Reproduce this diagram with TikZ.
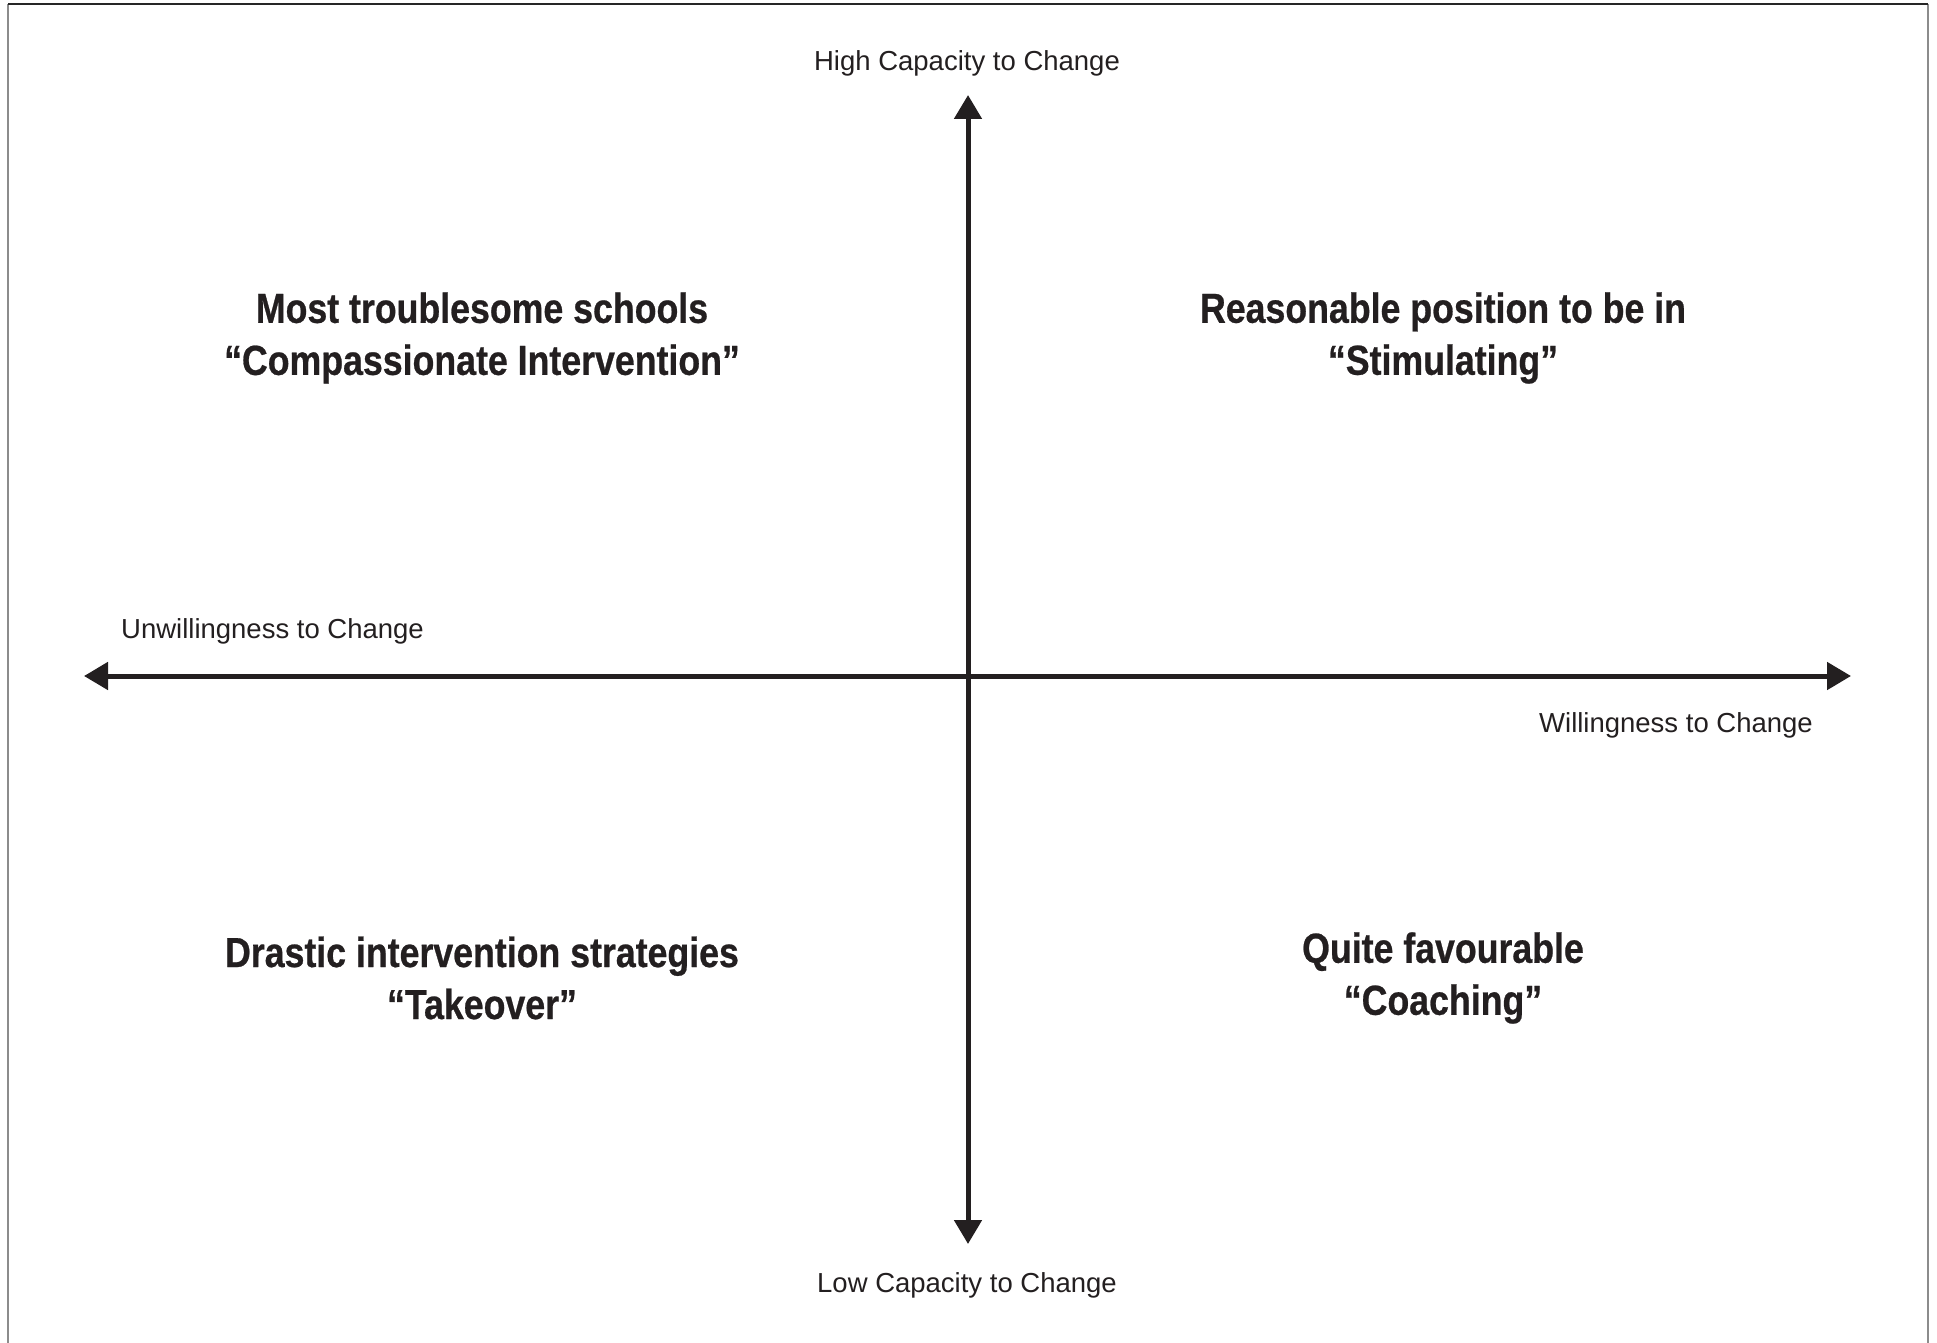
\documentclass[tikz,border=0pt]{standalone}
\usepackage{fontspec}
\setmainfont{Liberation Sans}
\newfontfamily\condbf[FakeStretch=0.85,BoldFeatures={FakeBold=0.6}]{Liberation Sans}
\usetikzlibrary{arrows.meta}
\definecolor{ink}{HTML}{231F20}
\definecolor{frame}{HTML}{8C8C8C}
\tikzset{
  axis/.style={line width=5pt, ink, {Triangle[width=27pt,length=24pt]}-{Triangle[width=27pt,length=24pt]}},
  axlabel/.style={font=\fontsize{27.5}{31}\selectfont, text=ink, inner sep=0pt},
  quadtitle/.style={font=\fontsize{42}{52}\selectfont\condbf\bfseries, text=ink, align=center, inner sep=0pt},
}
\begin{document}
\begin{tikzpicture}[x=1pt,y=-1pt]
\useasboundingbox (0,0) rectangle (1937,1343);
% frame
\draw[frame, line width=1.6pt] (8,1343) -- (8,4);
\draw[frame, line width=1.6pt] (1928,4) -- (1928,1343);
\draw[black!85, line width=1.4pt] (8,4) -- (1928,4);
% axis end points
\coordinate (left) at (84,676);
\coordinate (right) at (1851,676);
\coordinate (top) at (968,95);
\coordinate (bottom) at (968,1244);
\draw[axis] (left) -- (right);
\draw[axis] (bottom) -- (top);
% axis labels
\node[axlabel] (high) at (967,63) {High Capacity to Change};
\node[axlabel] (low) at (967,1285) {Low Capacity to Change};
\node[axlabel, anchor=west] (unw) at (121,631) {Unwillingness to Change};
\node[axlabel, anchor=east] (will) at (1813,725) {Willingness to Change};
% quadrant titles
\node[quadtitle] (q1) at (482,338) {Most troublesome schools\\“Compassionate Intervention”};
\node[quadtitle] (q2) at (1443,338) {Reasonable position to be in\\“Stimulating”};
\node[quadtitle] (q3) at (482,978) {Drastic intervention strategies\\“Takeover”};
\node[quadtitle] (q4) at (1443,978) {Quite favourable\\“Coaching”};
\end{tikzpicture}
\end{document}
